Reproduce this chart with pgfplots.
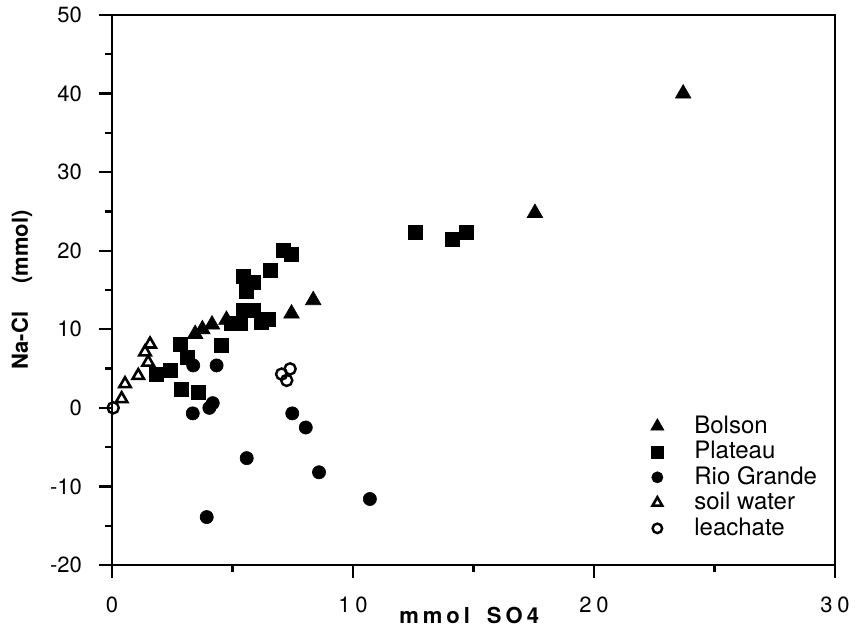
\documentclass[border=0pt]{standalone}
\usepackage{fontspec}
\setmainfont{TeX Gyre Heros}
\usepackage{pgfplots}
\pgfplotsset{compat=1.18}

\begin{document}
\begin{tikzpicture}
\begin{axis}[
	at={(0pt,0pt)}, anchor=south west,
	scale only axis, width=361.5pt, height=275pt,
	clip=false,
	xmin=0, xmax=30, ymin=-20, ymax=50,
	xtick={0,10,20,30}, minor xtick={5,15,25},
	xticklabels={0,1\kern2.5pt 0,2\kern2.5pt 0,3\kern2.5pt 0},
	ytick={-20,-10,0,10,20,30,40,50}, minor ytick={-15,-5,5,15,25,35,45},
	yticklabels={-20,-10,0,10,20,30,40,50},
	xtick pos=bottom, ytick pos=left, tick align=outside,
	major tick length=6.5pt, minor tick length=3.5pt,
	axis line style={black, line width=1.2pt},
	every tick/.style={black, line width=1.1pt},
	ticklabel style={font=\fontsize{11}{13}\selectfont},
	yticklabel style={xshift=-5pt},
	xticklabel style={yshift=-6pt},
	xlabel={m\kern2pt m\kern2pt o\kern2pt l\hspace{8.5pt}S\kern2pt O\kern2pt 4},
	ylabel={Na-Cl\hspace{14pt}(mmol)},
	label style={font=\bfseries\fontsize{11}{13}\selectfont},
	xlabel style={at={(rel axis cs:0.494,0)}, anchor=center, yshift=-25pt},
	ylabel style={at={(rel axis cs:0,0.5)}, anchor=center, yshift=45pt},
	legend style={draw=none, fill=none, at={(rel axis cs:0.7427,0.276)}, anchor=north west,
		inner sep=0pt, font=\fontsize{12}{14}\selectfont, column sep=0pt,
		nodes={inner sep=1pt, text height=8.75pt, text depth=2pt}},
	legend cell align=left,
	legend image code/.code={\path[draw=none, fill=none] (-4pt,-1pt) rectangle (17.5pt,1pt); \draw[#1, scale=0.85] plot coordinates {(0cm,0cm)};},
]
% Bolson
\addplot[only marks, mark=triangle*, mark size=4.5pt, mark options={fill=black, draw=black, line width=0.3pt}] coordinates {
	(3.45,9.4) (3.75,10.0) (4.15,10.6) (4.75,11.2) (7.45,12.0) (8.35,13.7) (17.55,24.8) (23.7,40.0)};
\addlegendentry{Bolson}
% Plateau
\addplot[only marks, mark=square*, mark size=3.5pt, mark options={fill=black, draw=black, line width=0.3pt}] coordinates {
	(12.57,22.4) (14.1,21.5) (14.7,22.4) (7.1,20.1) (7.46,19.5) (6.56,17.5) (5.44,16.8) (5.85,16.0)
	(5.59,14.8) (5.44,12.4) (5.85,12.4) (6.21,10.9) (6.47,11.3) (4.97,10.7) (5.31,10.7) (4.55,7.9)
	(2.82,8.1) (3.12,6.45) (2.4,4.75) (1.85,4.3) (2.89,2.4) (3.58,2.0)};
\addlegendentry{Plateau}
% Rio Grande
\addplot[only marks, mark=*, mark size=3.3pt, mark options={fill=black, draw=black, line width=0.3pt}] coordinates {
	(3.35,-0.7) (4.04,0) (4.18,0.6) (3.37,5.4) (4.34,5.4) (7.48,-0.7) (8.04,-2.5) (5.59,-6.4)
	(8.59,-8.2) (10.7,-11.6) (3.93,-13.9)};
\addlegendentry{Rio Grande}
% soil water
\addplot[only marks, mark=triangle, mark size=3.3pt, mark options={draw=black, fill=white, line width=1.3pt}] coordinates {
	(0.4,1.15) (0.54,3.05) (1.09,4.1) (1.5,5.8) (1.37,7.1) (1.58,8.1)};
\addlegendentry{soil water}
% leachate
\addplot[only marks, mark=o, mark size=2.8pt, mark options={draw=black, fill=white, line width=1.2pt}] coordinates {
	(0.05,0) (7.04,4.3) (7.39,4.96) (7.25,3.5)};
\addlegendentry{leachate}
\end{axis}
% frame on top and right
\draw[black, line width=1.2pt] (0pt,275pt) -- (361.5pt,275pt) -- (361.5pt,0pt);
\path (-56pt,-34pt) rectangle (372.5pt,282.5pt);
\end{tikzpicture}
\end{document}
